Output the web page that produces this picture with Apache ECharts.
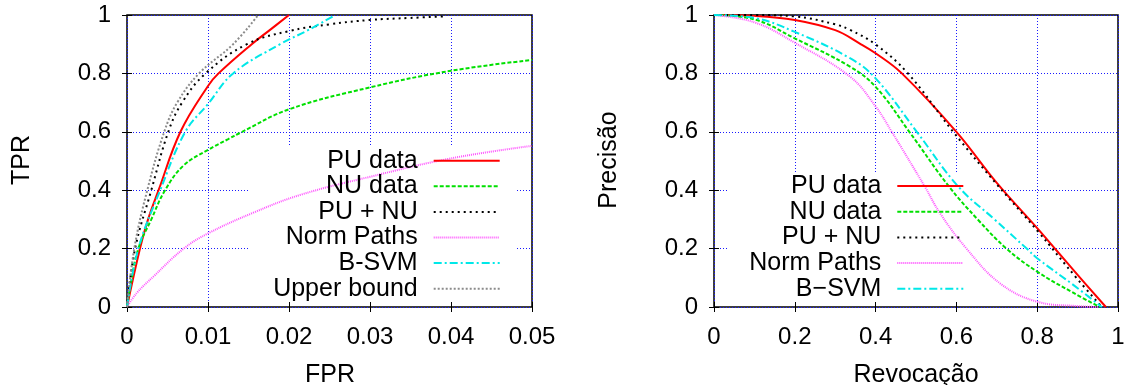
<!DOCTYPE html>
<html><head><meta charset="utf-8">
<script src="https://cdn.jsdelivr.net/npm/echarts@6/dist/echarts.min.js"></script>
<style>html,body{margin:0;padding:0;background:#fff}#c{width:1128px;height:385px}</style>
</head><body><div id="c"></div><script>
// ---------- Left plot: ROC (x = FPR, y = TPR) ----------
const rocPU    = [[0,0],[0.0016,0.2],[0.0026,0.3],[0.0039,0.4],[0.0066,0.6],[0.01,0.757],[0.0113,0.8],[0.0154,0.9],[0.0177,0.95],[0.02,1.0]];
const rocNU    = [[0,0],[0.0004,0.07],[0.0014,0.2],[0.003,0.3],[0.0047,0.4],[0.007,0.485],[0.01,0.538],[0.0125,0.575],[0.014,0.597],[0.02,0.677],[0.03,0.752],[0.04,0.809],[0.05,0.846]];
const rocPUNU  = [[0,0],[0.001,0.2],[0.003,0.4],[0.0051,0.6],[0.0068,0.7],[0.0097,0.8],[0.0148,0.9],[0.02,0.945],[0.025,0.968],[0.03,0.983],[0.035,0.99],[0.039,0.995]];
const rocNorm  = [[0,0],[0.0012,0.048],[0.00325,0.104],[0.007,0.2],[0.01,0.252],[0.0156,0.323],[0.0214,0.384],[0.03,0.446],[0.04,0.509],[0.05,0.552]];
const rocBSVM  = [[0,0],[0.0014,0.2],[0.0041,0.4],[0.0072,0.6],[0.01,0.695],[0.0131,0.8],[0.0189,0.9],[0.0225,0.95],[0.0257,1.0]];
const rocUpper = [[0,0],[0.0009,0.2],[0.0025,0.4],[0.0046,0.6],[0.0062,0.7],[0.0089,0.8],[0.0131,0.9],[0.0162,1.0]];
const rocNames = ['PU data','NU data','PU + NU','Norm Paths','B-SVM','Upper bound'];
const rocXTicks = ['0','0.01','0.02','0.03','0.04','0.05'];
const rocYTicks = ['0','0.2','0.4','0.6','0.8','1'];

// ---------- Right plot: Precision / Recall ----------
const prPU   = [[0,1],[0.1,0.997],[0.2,0.983],[0.3,0.948],[0.36,0.903],[0.4,0.869],[0.465,0.8],[0.6,0.6],[0.7,0.425],[0.8,0.27],[0.85,0.19],[0.9,0.11],[0.97,0]];
const prNU   = [[0,1],[0.1,0.985],[0.2,0.92],[0.3366,0.823],[0.4,0.754],[0.4835,0.6],[0.582,0.412],[0.654,0.298],[0.724,0.2],[0.8,0.121],[0.89,0.048],[0.955,0]];
const prPUNU = [[0,1],[0.1,1.0],[0.2,0.995],[0.3,0.968],[0.3366,0.949],[0.4,0.899],[0.48,0.8],[0.592,0.6],[0.7,0.42],[0.8,0.262],[0.9,0.095],[0.96,0]];
const prNorm = [[0,1],[0.1,0.975],[0.2,0.905],[0.3366,0.789],[0.4,0.687],[0.44,0.6],[0.522,0.412],[0.56,0.32],[0.625,0.2],[0.708,0.081],[0.8,0.018],[0.9,0.003],[0.95,0]];
const prBSVM = [[0,1],[0.1,0.99],[0.2,0.942],[0.3366,0.852],[0.4,0.783],[0.502,0.6],[0.605,0.412],[0.696,0.298],[0.774,0.2],[0.8,0.167],[0.89,0.075],[0.96,0]];
const prNames = ['PU data','NU data','PU + NU','Norm Paths','B\u2212SVM'];
const prXTicks = ['0','0.2','0.4','0.6','0.8','1'];
const prYTicks = ['0','0.2','0.4','0.6','0.8','1'];

// ---------- styles ----------
const FONT = 'Liberation Sans, Arial, Helvetica, sans-serif';
const styles = [
  {color:'#ff0000', type:'solid', width:2},
  {color:'#00e000', type:[4,2], width:2},
  {color:'#000000', type:[2,4], width:2},
  {color:'#ff55ff', type:[1,1], width:2},
  {color:'#00e8e8', type:[8,3,2,3], width:2},
  {color:'#8c8c8c', type:[2,2], width:2}
];
const rocData = [rocPU, rocNU, rocPUNU, rocNorm, rocBSVM, rocUpper];
const prData  = [prPU, prNU, prPUNU, prNorm, prBSVM];

function mkSeries(data, names, gi) {
  return data.map((d, i) => ({
    type:'line', name:names[i], xAxisIndex:gi*2, yAxisIndex:gi*2, data:d,
    showSymbol:false, symbol:'none', smooth:0.4,
    lineStyle:{color:styles[i].color, type:styles[i].type, width:styles[i].width},
    itemStyle:{color:styles[i].color}, z:3
  }));
}

const tickStyle = {show:true, inside:true, length:5, lineStyle:{color:'#000', width:1}};
const splitStyle = {show:true, lineStyle:{color:'#1a1aff', type:[1,2], width:1}};
const labelStyle = {fontSize:24, fontFamily:FONT, color:'#000'};

function axesFor(gi, xmax, xint, xt, yt) {
  const xs = [
    {type:'value', gridIndex:gi, min:0, max:xmax, interval:xint, position:'bottom',
     axisLine:{show:false}, axisTick:tickStyle, splitLine:splitStyle,
     axisLabel:Object.assign({margin:18, formatter:(v,i)=>xt[i]}, labelStyle)},
    {type:'value', gridIndex:gi, min:0, max:xmax, interval:xint, position:'top',
     axisLine:{show:false}, axisTick:tickStyle, splitLine:{show:false}, axisLabel:{show:false}}
  ];
  const ys = [
    {type:'value', gridIndex:gi, min:0, max:1, interval:0.2, position:'left',
     axisLine:{show:false}, axisTick:tickStyle, splitLine:splitStyle,
     axisLabel:Object.assign({margin:16, formatter:(v,i)=>yt[i]}, labelStyle)},
    {type:'value', gridIndex:gi, min:0, max:1, interval:0.2, position:'right',
     axisLine:{show:false}, axisTick:tickStyle, splitLine:{show:false}, axisLabel:{show:false}}
  ];
  return {xs, ys};
}
const a0 = axesFor(0, 0.05, 0.01, rocXTicks, rocYTicks);
const a1 = axesFor(1, 1, 0.2, prXTicks, prYTicks);

const legendBase = {
  orient:'vertical', align:'right', padding:0, itemWidth:66, itemHeight:4, itemGap:0.6,
  selectedMode:false,
  itemStyle:{color:'rgba(0,0,0,0)', borderWidth:0, opacity:0},
  textStyle:{fontSize:25, fontFamily:FONT, color:'#000', padding:[0,11,0,0]}
};

const chart = echarts.init(document.getElementById('c'), null, {renderer:'canvas'});
chart.setOption({
  animation:false,
  backgroundColor:'#fff',
  grid:[
    {left:127, top:15, width:405, height:292, show:true, borderColor:'#000', borderWidth:1.5, backgroundColor:'transparent'},
    {left:714, top:15, width:404, height:292, show:true, borderColor:'#000', borderWidth:1.5, backgroundColor:'transparent'}
  ],
  xAxis:[...a0.xs, ...a1.xs],
  yAxis:[...a0.ys, ...a1.ys],
  legend:[
    Object.assign({}, legendBase, {right:627.3, top:148.2, data:rocNames}),
    Object.assign({}, legendBase, {right:163.7, top:173.5, itemGap:0.7, data:prNames})
  ],
  graphic:[
    {type:'rect', z:1, silent:true, shape:{x:248, y:145, width:269, height:156}, style:{fill:'#fff'}},
    {type:'rect', z:1, silent:true, shape:{x:727, y:173, width:253, height:128}, style:{fill:'#fff'}},
    {type:'text', z:5, x:22.5, y:160, rotation:Math.PI/2, style:{text:'TPR', fontSize:25, fontFamily:FONT, fill:'#000', align:'center', verticalAlign:'middle'}},
    {type:'text', z:5, x:609, y:160, rotation:Math.PI/2, style:{text:'Precisão', fontSize:25, fontFamily:FONT, fill:'#000', align:'center', verticalAlign:'middle'}},
    {type:'text', z:5, x:330, y:375, style:{text:'FPR', fontSize:25, fontFamily:FONT, fill:'#000', align:'center', verticalAlign:'middle'}},
    {type:'text', z:5, x:916, y:375, style:{text:'Revocação', fontSize:25, fontFamily:FONT, fill:'#000', align:'center', verticalAlign:'middle'}}
  ],
  series:[...mkSeries(rocData, rocNames, 0), ...mkSeries(prData, prNames, 1)]
});
</script></body></html>
